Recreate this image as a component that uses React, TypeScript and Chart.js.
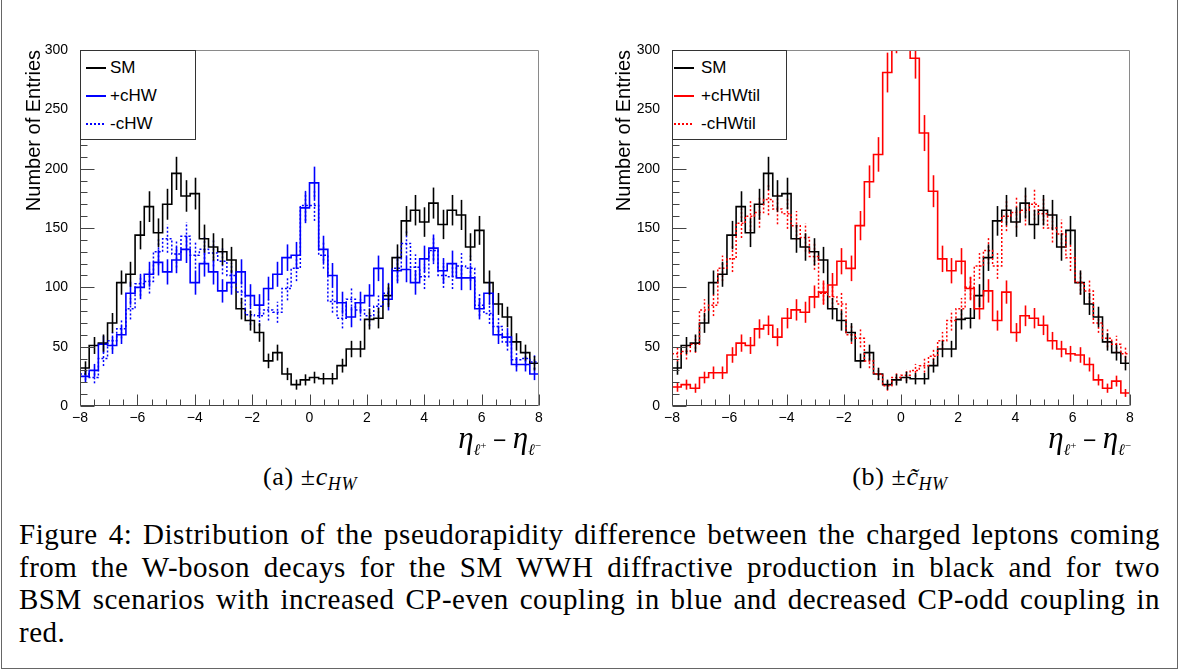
import React, { useEffect, useRef } from "react";
import { Chart, registerables } from "chart.js";

Chart.register(...registerables);

// ---------------- DATA ----------------
const X_MIN = -8;
const X_MAX = 8;
const N_BINS = 50;
const Y_MIN = 0;
const Y_MAX = 300;

const xTickValues = [-8, -6, -4, -2, 0, 2, 4, 6, 8];
const yTickValues = [0, 50, 100, 150, 200, 250, 300];

// Standard Model (black), same in both panels
const smValues = [
  32, 51, 53, 70, 104, 111, 144, 168, 146, 170,
  196, 177, 179, 141, 134, 130, 123, 82, 72, 62,
  38, 45, 27, 18, 22, 24, 23, 23, 34, 48,
  48, 73, 74, 93, 125, 156, 165, 155, 171, 153,
  165, 161, 134, 148, 104, 86, 75, 54, 45, 36,
];

// +cHW (blue solid)
const cHWPlusValues = [
  25, 30, 52, 51, 60, 95, 100, 111, 121, 113,
  123, 132, 104, 120, 113, 97, 104, 113, 93, 85,
  99, 111, 125, 127, 167, 188, 132, 110, 87, 75,
  87, 93, 116, 90, 114, 115, 104, 124, 133, 114,
  120, 108, 108, 82, 95, 60, 58, 35, 35, 27,
];

// -cHW (blue dotted)
const cHWMinusValues = [
  27, 24, 40, 55, 65, 82, 103, 105, 130, 141,
  128, 143, 127, 132, 129, 122, 110, 96, 77, 76,
  81, 79, 99, 116, 169, 169, 127, 88, 74, 90,
  81, 76, 84, 95, 116, 137, 117, 109, 131, 110,
  109, 118, 116, 85, 78, 67, 54, 39, 40, 37,
];

// +cHWtil (red solid)
const cHWtilPlusValues = [
  16, 18, 15, 24, 28, 28, 43, 53, 51, 65,
  68, 58, 74, 81, 79, 92, 96, 102, 122, 116,
  152, 189, 212, 281, 315, 318, 293, 230, 181, 124,
  114, 122, 99, 82, 97, 72, 96, 62, 76, 74,
  68, 55, 48, 44, 43, 35, 22, 15, 21, 11,
];

// -cHWtil (red dotted)
const cHWtilMinusValues = [
  44, 46, 52, 81, 85, 116, 124, 154, 160, 163,
  174, 166, 162, 152, 142, 126, 95, 92, 86, 60,
  57, 38, 27, 17, 24, 26, 30, 34, 42, 55,
  72, 82, 100, 118, 131, 118, 160, 163, 165, 170,
  162, 150, 145, 125, 104, 97, 70, 57, 52, 44,
];

const panelALabels = ["SM", "+cHW", "-cHW"];
const panelBLabels = ["SM", "+cHWtil", "-cHWtil"];

const yAxisTitle = "Number of Entries";

const captionLines = [
  "Figure 4: Distribution of the pseudorapidity difference between the charged leptons coming",
  "from the W-boson decays for the SM WWH diffractive production in black and for two",
  "BSM scenarios with increased CP-even coupling in blue and decreased CP-odd coupling in",
  "red.",
];

// ---------------- STYLE ----------------
const BLACK = "#000000";
const BLUE = "#0000ff";
const RED = "#ff0000";
const SANS = "'Liberation Sans', Arial, sans-serif";
const SERIF = "'Liberation Serif', 'DejaVu Serif', serif";

type Series = { label: string; values: number[]; color: string; dashed: boolean };

function binWidth() {
  return (X_MAX - X_MIN) / N_BINS;
}

function stepPoints(values: number[]) {
  const w = binWidth();
  const pts = values.map((v, k) => ({ x: X_MIN + k * w, y: v }));
  pts.push({ x: X_MAX, y: values[values.length - 1] });
  return pts;
}

const rootPlugin = {
  id: "rootStyle",
  afterDatasetsDraw(chart: any) {
    const { ctx, chartArea } = chart;
    const xs = chart.scales.x;
    const ys = chart.scales.y;
    const w = binWidth();
    ctx.save();
    ctx.beginPath();
    ctx.rect(chartArea.left, chartArea.top, chartArea.right - chartArea.left, chartArea.bottom - chartArea.top);
    ctx.clip();
    const dsList = chart.data.datasets;
    for (let i = dsList.length - 1; i >= 0; i--) {
      const ds = dsList[i];
      const vals: number[] = ds.binValues;
      ctx.strokeStyle = ds.borderColor;
      ctx.lineWidth = ds.borderWidth;
      ctx.setLineDash(ds.borderDash || []);
      vals.forEach((v, k) => {
        const c = X_MIN + (k + 0.5) * w;
        const e = Math.sqrt(v);
        const px = Math.round(xs.getPixelForValue(c)) + 0.5;
        ctx.beginPath();
        ctx.moveTo(px, ys.getPixelForValue(v - e));
        ctx.lineTo(px, ys.getPixelForValue(v + e));
        ctx.stroke();
      });
    }
    ctx.restore();
  },
  afterDraw(chart: any) {
    const { ctx, chartArea } = chart;
    const xs = chart.scales.x;
    const ys = chart.scales.y;
    const L = Math.round(chartArea.left) + 0.5;
    const R = Math.round(chartArea.right) - 0.5;
    const T = Math.round(chartArea.top) + 0.5;
    const B = Math.round(chartArea.bottom) - 0.5;
    ctx.save();
    ctx.setLineDash([]);
    ctx.lineWidth = 1;
    ctx.strokeStyle = "#8a8a8a";
    ctx.beginPath();
    ctx.moveTo(L, T);
    ctx.lineTo(R, T);
    ctx.lineTo(R, B);
    ctx.stroke();
    ctx.strokeStyle = "#444444";
    ctx.beginPath();
    ctx.moveTo(L, T);
    ctx.lineTo(L, B);
    ctx.lineTo(R, B);
    ctx.stroke();
    ctx.beginPath();
    for (let v = X_MIN; v <= X_MAX + 1e-9; v += 0.5) {
      const isMajor = xTickValues.some((t) => Math.abs(t - v) < 1e-9);
      const px = Math.round(xs.getPixelForValue(v)) + 0.5;
      ctx.moveTo(px, B);
      ctx.lineTo(px, B - (isMajor ? 11 : 6));
    }
    for (let v = Y_MIN; v <= Y_MAX + 1e-9; v += 10) {
      const isMajor = yTickValues.some((t) => Math.abs(t - v) < 1e-9);
      const py = Math.round(ys.getPixelForValue(v)) + 0.5;
      ctx.moveTo(L, py);
      ctx.lineTo(L + (isMajor ? 14 : 7), py);
    }
    ctx.stroke();
    ctx.restore();
  },
};

function fmtTick(v: number) {
  return v < 0 ? "\u2212" + Math.abs(v) : String(v);
}

function HistPanel(props: {
  left: number;
  width: number;
  height: number;
  axisWidth: number;
  padRight: number;
  series: Series[];
}) {
  const ref = useRef<HTMLCanvasElement>(null);
  useEffect(() => {
    if (!ref.current) return;
    const chart = new Chart(ref.current, {
      type: "line",
      data: {
        datasets: props.series.map((s, i) => ({
          label: s.label,
          data: stepPoints(s.values),
          binValues: s.values,
          borderColor: s.color,
          borderWidth: s.dashed ? 1.5 : 1.6,
          borderDash: s.dashed ? [2, 2] : [],
          borderJoinStyle: "miter",
          borderCapStyle: "butt",
          stepped: true,
          pointRadius: 0,
          fill: false,
          order: props.series.length - i,
        })) as any,
      },
      options: {
        responsive: false,
        animation: false,
        events: [],
        layout: { padding: { top: 50, right: props.padRight, left: 0, bottom: 0 } },
        plugins: { legend: { display: false }, tooltip: { enabled: false }, title: { display: false } },
        scales: {
          x: {
            type: "linear",
            min: X_MIN,
            max: X_MAX,
            afterBuildTicks: (scale: any) => {
              scale.ticks = xTickValues.map((v) => ({ value: v }));
            },
            afterFit: (scale: any) => {
              scale.height = props.height - 406;
            },
            grid: { display: false },
            border: { display: false },
            ticks: {
              callback: (v: any) => fmtTick(Number(v)),
              font: { family: SANS, size: 14 },
              color: "#000",
              padding: -4,
              maxRotation: 0,
              autoSkip: false,
            },
          },
          y: {
            type: "linear",
            min: Y_MIN,
            max: Y_MAX,
            afterBuildTicks: (scale: any) => {
              scale.ticks = yTickValues.map((v) => ({ value: v }));
            },
            afterFit: (scale: any) => {
              scale.width = props.axisWidth;
            },
            grid: { display: false },
            border: { display: false },
            ticks: {
              callback: (v: any) => String(v),
              font: { family: SANS, size: 14 },
              color: "#000",
              padding: 4,
              autoSkip: false,
            },
          },
        },
      } as any,
      plugins: [rootPlugin],
    });
    return () => chart.destroy();
  }, []);
  return (
    <canvas
      ref={ref}
      width={props.width}
      height={props.height}
      style={{ position: "absolute", left: props.left, top: 0, width: props.width, height: props.height }}
    />
  );
}

function Legend(props: { left: number; width: number; sampleLeft: number; textLeft: number; series: Series[] }) {
  const rows = [17, 45, 73];
  return (
    <div
      style={{
        position: "absolute",
        left: props.left,
        top: 50,
        width: props.width,
        height: 90,
        border: "1px solid #333",
        background: "#fff",
        boxSizing: "border-box",
      }}
    >
      {props.series.map((s, i) => (
        <React.Fragment key={i}>
          <div
            style={{
              position: "absolute",
              left: props.sampleLeft,
              top: rows[i] - 1,
              width: 20,
              height: 2,
              background: s.dashed
                ? `repeating-linear-gradient(to right, ${s.color} 0px, ${s.color} 2px, transparent 2px, transparent 4px)`
                : s.color,
            }}
          />
          <div
            style={{
              position: "absolute",
              left: props.textLeft,
              top: rows[i] - 10,
              height: 20,
              lineHeight: "20px",
              fontFamily: SANS,
              fontSize: 17,
              color: "#000",
              whiteSpace: "nowrap",
            }}
          >
            {s.label}
          </div>
        </React.Fragment>
      ))}
    </div>
  );
}

function YTitle(props: { left: number }) {
  return (
    <div
      style={{
        position: "absolute",
        left: props.left,
        top: 250,
        width: 200,
        height: 22,
        lineHeight: "22px",
        transformOrigin: "0 0",
        transform: "rotate(-90deg)",
        textAlign: "right",
        fontFamily: SANS,
        fontSize: 20,
        color: "#000",
        whiteSpace: "nowrap",
      }}
    >
      {yAxisTitle}
    </div>
  );
}

function XTitle(props: { right: number }) {
  const sub = { fontSize: 16, verticalAlign: "-7px", fontStyle: "italic" as const };
  const sup = { fontSize: 11, verticalAlign: "6px", fontStyle: "normal" as const };
  return (
    <div
      style={{
        position: "absolute",
        right: 1179 - props.right,
        top: 423,
        height: 30,
        lineHeight: "30px",
        fontFamily: SERIF,
        fontSize: 31,
        color: "#000",
        whiteSpace: "nowrap",
      }}
    >
      <i>η</i>
      <span style={sub}>
        ℓ<span style={sup}>+</span>
      </span>
      <span style={{ fontFamily: SANS, fontSize: 23 }}> − </span>
      <i>η</i>
      <span style={sub}>
        ℓ<span style={sup}>−</span>
      </span>
    </div>
  );
}

function SubCaption(props: { center: number; letter: string; tilde: boolean }) {
  return (
    <div
      style={{
        position: "absolute",
        left: props.center - 120,
        width: 240,
        top: 462,
        lineHeight: "30px",
        textAlign: "center",
        fontFamily: SERIF,
        fontSize: 26,
        letterSpacing: "0.6px",
        color: "#000",
        whiteSpace: "nowrap",
      }}
    >
      ({props.letter}) ±<i>{props.tilde ? "c\u0303" : "c"}</i>
      <i style={{ fontSize: 18, verticalAlign: "-5px" }}>HW</i>
    </div>
  );
}

export default function App() {
  const seriesA: Series[] = [
    { label: panelALabels[0], values: smValues, color: BLACK, dashed: false },
    { label: panelALabels[1], values: cHWPlusValues, color: BLUE, dashed: false },
    { label: panelALabels[2], values: cHWMinusValues, color: BLUE, dashed: true },
  ];
  const seriesB: Series[] = [
    { label: panelBLabels[0], values: smValues, color: BLACK, dashed: false },
    { label: panelBLabels[1], values: cHWtilPlusValues, color: RED, dashed: false },
    { label: panelBLabels[2], values: cHWtilMinusValues, color: RED, dashed: true },
  ];
  return (
    <div
      style={{
        position: "fixed",
        left: 0,
        top: 0,
        width: 1179,
        height: 670,
        background: "#fff",
        overflow: "hidden",
      }}
    >
      <div
        style={{
          position: "absolute",
          left: 1,
          top: -2,
          width: 1177,
          height: 671,
          boxSizing: "border-box",
          border: "1px solid #666",
        }}
      />
      <HistPanel left={0} width={560} height={460} axisWidth={80} padRight={21} series={seriesA} />
      <HistPanel left={590} width={560} height={460} axisWidth={82} padRight={20} series={seriesB} />
      <Legend left={80} width={116} sampleLeft={5} textLeft={29} series={seriesA} />
      <Legend left={672} width={115} sampleLeft={1} textLeft={28} series={seriesB} />
      <YTitle left={22} />
      <YTitle left={612} />
      <XTitle right={541} />
      <XTitle right={1131} />
      <SubCaption center={310} letter="a" tilde={false} />
      <SubCaption center={900} letter="b" tilde={true} />
      <div
        style={{
          position: "absolute",
          left: 19,
          top: 518,
          width: 1141,
          fontFamily: SERIF,
          fontSize: 29,
          letterSpacing: "0.5px",
          lineHeight: "32.5px",
          color: "#000",
        }}
      >
        {captionLines.map((line, i) => (
          <div
            key={i}
            style={{
              textAlign: i < captionLines.length - 1 ? "justify" : "left",
              textAlignLast: i < captionLines.length - 1 ? "justify" : "left",
              whiteSpace: "nowrap",
            }}
          >
            {line}
          </div>
        ))}
      </div>
    </div>
  );
}
